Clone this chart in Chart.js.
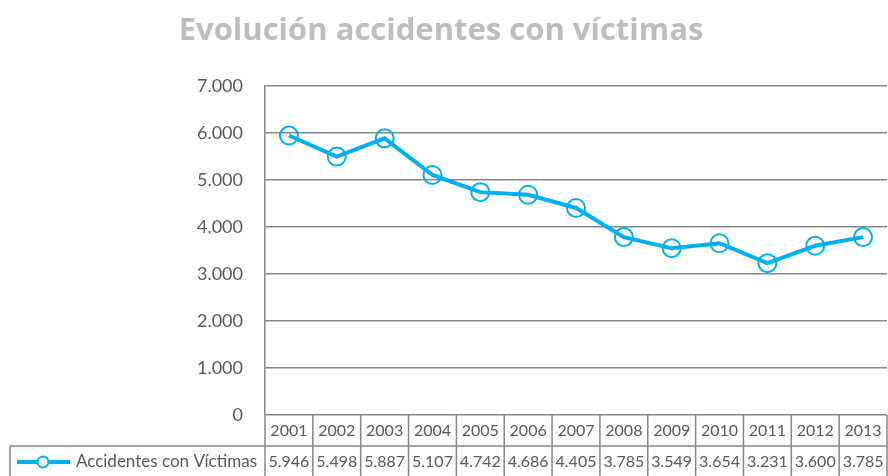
<!DOCTYPE html>
<html>
<head>
<meta charset="utf-8">
<script src="https://cdn.jsdelivr.net/npm/chart.js@4"></script>
<style>
  html, body { margin: 0; padding: 0; background: #fff; }
  #wrap { width: 888px; height: 476px; }
</style>
</head>
<body>
<div id="wrap"><canvas id="myChart" width="888" height="476"></canvas></div>
<script>
// datos
var years = ["2001", "2002", "2003", "2004", "2005", "2006", "2007",
    "2008", "2009", "2010", "2011", "2012", "2013"];
var accidentes = [5946, 5498, 5887, 5107, 4742, 4686, 4405, 3785, 3549, 3654, 3231, 3600, 3785];
var serieNombre = "Accidentes con Víctimas";
var titulo = "Evolución accidentes con víctimas";
var yTicks = [0, 1000, 2000, 3000, 4000, 5000, 6000, 7000];

var azul = "#00b0f0";
var gris = "#868686";
var texto = "#595959";
var fuente = "Lato, 'Open Sans', sans-serif";

function puntos(v) {
    return String(v).replace(/\B(?=(\d{3})+(?!\d))/g, ".");
}

// titulo + tabla de datos (como Excel)
var tablaPlugin = {
    id: "tabla",
    afterDraw: function (chart) {
        var c = chart.ctx;
        var area = chart.chartArea;
        var xs = chart.scales.x;
        var n = years.length;
        var colW = (area.right - area.left) / n;
        var fila1 = area.bottom;
        var fila2 = area.bottom + 31;
        var fin = chart.height;

        c.save();
        // titulo
        c.fillStyle = "#bdbdbd";
        c.font = "bold 31px 'Open Sans', sans-serif";
        c.textAlign = "center";
        c.textBaseline = "alphabetic";
        c.fillText(titulo, 441, 40);
        c.textBaseline = "middle";

        // lineas de la tabla
        c.strokeStyle = gris;
        c.lineWidth = 1.5;
        c.beginPath();
        c.moveTo(10, fila2);
        c.lineTo(area.right, fila2);
        c.moveTo(10, fila2);
        c.lineTo(10, fin);
        for (var i = 0; i <= n; i++) {
            var lx = area.left + i * colW;
            c.moveTo(lx, fila1);
            c.lineTo(lx, fin);
        }
        c.stroke();

        // textos
        c.fillStyle = texto;
        c.font = "16px " + fuente;
        c.textAlign = "center";
        for (var j = 0; j < n; j++) {
            var cx = xs.getPixelForValue(j);
            c.fillText(years[j], cx, fila1 + 16);
            c.fillText(puntos(accidentes[j]), cx, fila2 + 16);
        }

        // leyenda
        c.textAlign = "right";
        c.font = "17px " + fuente;
        c.fillText(serieNombre, area.left - 8, fila2 + 16);
        c.strokeStyle = azul;
        c.lineWidth = 4;
        c.beginPath();
        c.moveTo(17, fila2 + 16);
        c.lineTo(70, fila2 + 16);
        c.stroke();
        c.lineWidth = 2;
        c.fillStyle = "#fff";
        c.beginPath();
        c.arc(43, fila2 + 16, 5.5, 0, Math.PI * 2);
        c.fill();
        c.stroke();
        c.restore();
    }
};

var ctx = document.getElementById("myChart").getContext("2d");
var myLineChart = new Chart(ctx, {
    type: "line",
    data: {
        labels: years,
        datasets: [{
            label: serieNombre,
            data: accidentes,
            borderColor: azul,
            borderWidth: 4,
            pointRadius: 9,
            pointBorderWidth: 2,
            pointBorderColor: azul,
            pointBackgroundColor: "rgba(0,0,0,0)",
            tension: 0
        }]
    },
    options: {
        responsive: false,
        animation: false,
        layout: { autoPadding: false, padding: { top: 86, bottom: 61, right: 1, left: 0 } },
        plugins: {
            legend: { display: false },
            title: { display: false },
            tooltip: { enabled: false }
        },
        scales: {
            x: {
                display: false,
                offset: true
            },
            y: {
                min: 0,
                max: 7000,
                afterFit: function (s) { s.width = 265; },
                afterBuildTicks: function (s) {
                    s.ticks = yTicks.map(function (v) { return { value: v }; });
                },
                border: { display: true, color: gris, width: 1.5 },
                grid: { color: gris, lineWidth: 1.5, drawTicks: false },
                ticks: {
                    padding: 22,
                    color: texto,
                    font: { family: fuente, size: 18 },
                    callback: function (v) { return puntos(v); }
                }
            }
        }
    },
    plugins: [tablaPlugin]
});
</script>
</body>
</html>
